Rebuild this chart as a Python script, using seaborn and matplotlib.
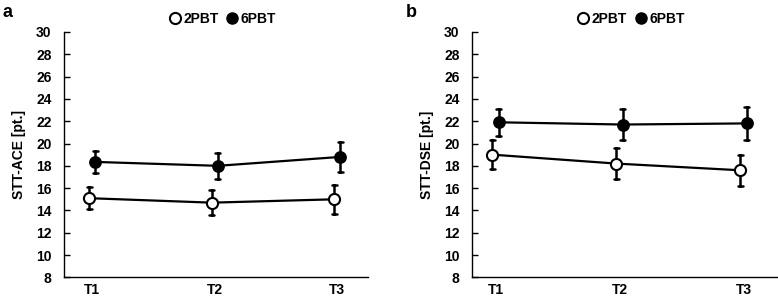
import pandas as pd
import seaborn as sns
import matplotlib.pyplot as plt
from matplotlib.lines import Line2D

times = ["T1", "T2", "T3"]
groups = ["2PBT", "6PBT"]

# panel a: STT-ACE, mean and error half-width
ace_2pbt_mean = [15.1, 14.7, 15.0]
ace_2pbt_err = [1.0, 1.15, 1.3]
ace_6pbt_mean = [18.35, 18.0, 18.8]
ace_6pbt_err = [1.0, 1.15, 1.33]

# panel b: STT-DSE
dse_2pbt_mean = [19.0, 18.2, 17.6]
dse_2pbt_err = [1.3, 1.4, 1.4]
dse_6pbt_mean = [21.9, 21.7, 21.8]
dse_6pbt_err = [1.2, 1.4, 1.45]


def make_df(m2, e2, m6, e6):
    rows = []
    for g, means, errs in [("2PBT", m2, e2), ("6PBT", m6, e6)]:
        for t, m, e in zip(times, means, errs):
            rows.append({"time": t, "group": g, "score": m - e})
            rows.append({"time": t, "group": g, "score": m + e})
    return pd.DataFrame(rows)


sns.set_style("ticks")
plt.rcParams['font.family'] = ['Liberation Sans', 'DejaVu Sans']
plt.rcParams['font.weight'] = 'bold'
plt.rcParams['font.size'] = 10
for k in ['text.color', 'axes.labelcolor', 'xtick.color', 'ytick.color',
          'axes.edgecolor']:
    plt.rcParams[k] = 'black'

fig = plt.figure(figsize=(7.78, 2.98), dpi=100)
ax_a = fig.add_axes([0.0823, 0.069, 0.3907, 0.824])
ax_b = fig.add_axes([0.6067, 0.069, 0.392, 0.824])

panels = [
    (ax_a, make_df(ace_2pbt_mean, ace_2pbt_err, ace_6pbt_mean, ace_6pbt_err),
     "STT-ACE [pt.]", (-0.23, 2.25)),
    (ax_b, make_df(dse_2pbt_mean, dse_2pbt_err, dse_6pbt_mean, dse_6pbt_err),
     "STT-DSE [pt.]", (-0.19, 2.27)),
]

for ax, df, ylab, xlim in panels:
    sns.pointplot(data=df, x="time", y="score", hue="group",
                  hue_order=groups, order=times,
                  palette=["black", "black"], markers="o",
                  estimator="mean", errorbar=lambda v: (v.min(), v.max()),
                  dodge=0.05, capsize=0.04, err_kws={"linewidth": 1.8},
                  linewidth=1.6, markersize=8, legend=False, ax=ax)
    # open marker for 2PBT
    for ln in ax.lines:
        if ln.get_marker() == "o":
            xs = ln.get_xdata()
            if len(xs) and xs[0] < 0:
                ln.set_markerfacecolor("white")
                ln.set_markeredgecolor("black")
                ln.set_markeredgewidth(1.5)
            ln.set_zorder(5)

    ax.set_ylim(8, 30)
    ax.set_yticks(range(8, 31, 2))
    ax.set_xlim(xlim)
    ax.set_xlabel("")
    ax.set_ylabel(ylab, fontsize=10, fontweight="bold", labelpad=7)
    ax.tick_params(axis="y", direction="in", length=4, width=1, pad=9,
                   labelsize=10)
    ax.tick_params(axis="x", length=0, pad=4, labelsize=10)
    for lbl in ax.get_xticklabels() + ax.get_yticklabels():
        lbl.set_fontweight("bold")
    sns.despine(ax=ax)
    for s in ["left", "bottom"]:
        ax.spines[s].set_linewidth(1.0)

    handles = [
        Line2D([], [], marker="o", color="black", linestyle="none",
               markerfacecolor="white", markersize=8, markeredgewidth=1.5),
        Line2D([], [], marker="o", color="black", linestyle="none",
               markersize=8),
    ]
    ax.legend(handles, groups, ncol=2, frameon=False,
              loc="lower center", bbox_to_anchor=(0.52, 1.0),
              handletextpad=0.1, columnspacing=0.5,
              handlelength=1.0, borderaxespad=0.0,
              prop={"weight": "bold", "size": 10})

fig.text(0.003, 0.985, "a", fontsize=13, fontweight="bold", va="top")
fig.text(0.522, 0.985, "b", fontsize=13, fontweight="bold", va="top")

fig.savefig("out.png", dpi=100)
